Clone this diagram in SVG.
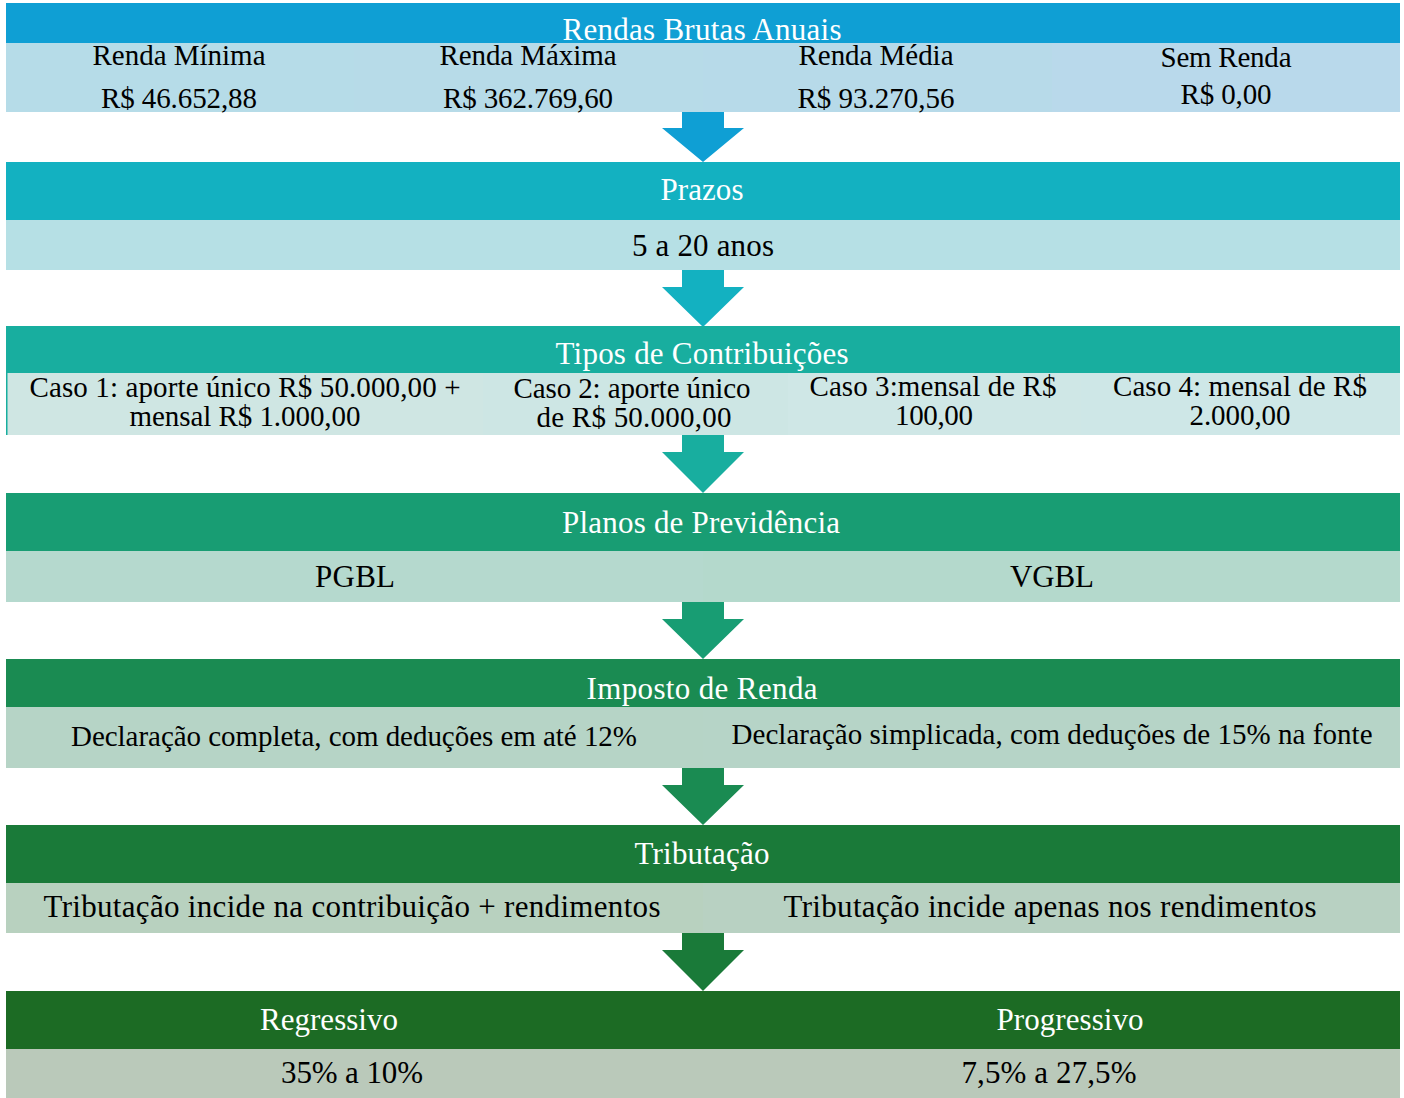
<svg xmlns="http://www.w3.org/2000/svg" width="1404" height="1098" viewBox="0 0 1404 1098">
<style>
text{font-family:"Liberation Serif","Times New Roman",serif;text-anchor:middle}
.h{fill:#ffffff;font-size:31px}
.t{fill:#000000;font-size:29px}
.b{fill:#000000;font-size:31px}
</style>
<rect width="1404" height="1098" fill="#ffffff"/>
<g id="connectors">
<polygon points="682,112 724,112 724,128 744,128 703,162 662,128 682,128" fill="#0F9FD4"/>
<polygon points="682,270 724,270 724,287 744,287 703,327 662,287 682,287" fill="#13B1C1"/>
<polygon points="682,435 724,435 724,452 744,452 703,493 662,452 682,452" fill="#18AE9F"/>
<polygon points="682,602 724,602 724,619 744,619 703,659 662,619 682,619" fill="#189D73"/>
<polygon points="682,768 724,768 724,785 744,785 703,825 662,785 682,785" fill="#1A8B52"/>
<polygon points="682,933 724,933 724,950 744,950 703,991 662,950 682,950" fill="#1A7A39"/>
</g>
<g id="rendas">
<rect x="6" y="3" width="1394" height="40" fill="#0F9FD4"/>
<rect x="6" y="43" width="348" height="69" fill="#B6DCE8"/>
<rect x="354" y="43" width="349" height="69" fill="#B7DBE8"/>
<rect x="703" y="43" width="349" height="69" fill="#B7DAE9"/>
<rect x="1052" y="43" width="348" height="69" fill="#B9D9EB"/>
<text class="h" x="702" y="40" textLength="279">Rendas Brutas Anuais</text>
<text class="t" x="179" y="65" textLength="173">Renda Mínima</text>
<text class="t" x="179" y="108" textLength="156">R$ 46.652,88</text>
<text class="t" x="528" y="65" textLength="177">Renda Máxima</text>
<text class="t" x="528" y="108" textLength="170">R$ 362.769,60</text>
<text class="t" x="876" y="65" textLength="155">Renda Média</text>
<text class="t" x="876" y="108" textLength="157">R$ 93.270,56</text>
<text class="t" x="1226" y="67" textLength="131">Sem Renda</text>
<text class="t" x="1226" y="104" textLength="91">R$ 0,00</text>
</g>
<g id="prazos">
<rect x="6" y="162" width="1394" height="58" fill="#13B1C1"/>
<rect x="6" y="220" width="1394" height="50" fill="#B6E0E5"/>
<text class="h" x="702" y="200" textLength="83">Prazos</text>
<text class="b" x="703" y="256" textLength="142">5 a 20 anos</text>
</g>
<g id="tipos">
<rect x="6" y="326" width="1394" height="47" fill="#18AE9F"/>
<rect x="6" y="373" width="477" height="62" fill="#CFE6E3"/>
<rect x="483" y="373" width="305" height="62" fill="#CDE6E4"/>
<rect x="788" y="373" width="293" height="62" fill="#CFE7E6"/>
<rect x="1081" y="373" width="319" height="62" fill="#CEE7E7"/>
<rect x="6" y="373" width="1.5" height="62" fill="#18AE9F"/>
<text class="h" x="702" y="364" textLength="293">Tipos de Contribuições</text>
<text class="t" x="245" y="397" textLength="431">Caso 1: aporte único R$ 50.000,00 +</text>
<text class="t" x="245" y="426" textLength="231">mensal R$ 1.000,00</text>
<text class="t" x="632" y="398" textLength="237">Caso 2: aporte único</text>
<text class="t" x="634" y="427" textLength="195">de R$ 50.000,00</text>
<text class="t" x="933" y="396" textLength="247">Caso 3:mensal de R$</text>
<text class="t" x="934" y="425" textLength="78">100,00</text>
<text class="t" x="1240" y="396" textLength="254">Caso 4: mensal de R$</text>
<text class="t" x="1240" y="425" textLength="101">2.000,00</text>
</g>
<g id="planos">
<rect x="6" y="493" width="1394" height="58" fill="#189D73"/>
<rect x="6" y="551" width="697" height="51" fill="#B5D9CE"/>
<rect x="703" y="551" width="697" height="51" fill="#B4D9CC"/>
<text class="h" x="701" y="533" textLength="278">Planos de Previdência</text>
<text class="b" x="355" y="587" textLength="80">PGBL</text>
<text class="b" x="1052" y="587" textLength="84">VGBL</text>
</g>
<g id="imposto">
<rect x="6" y="659" width="1394" height="48" fill="#1A8B52"/>
<rect x="6" y="707" width="697" height="61" fill="#B6D4C6"/>
<rect x="703" y="707" width="697" height="61" fill="#B6D4C7"/>
<text class="h" x="702" y="699" textLength="231">Imposto de Renda</text>
<text class="t" x="354" y="746" textLength="566">Declaração completa, com deduções em até 12%</text>
<text class="t" x="1052" y="744" textLength="641">Declaração simplicada, com deduções de 15% na fonte</text>
</g>
<g id="tributacao">
<rect x="6" y="825" width="1394" height="58" fill="#1A7A39"/>
<rect x="6" y="883" width="697" height="50" fill="#B8D1BF"/>
<rect x="703" y="883" width="697" height="50" fill="#B8D1C2"/>
<text class="h" x="702" y="864" textLength="135">Tributação</text>
<text class="b" x="352" y="917" textLength="617">Tributação incide na contribuição + rendimentos</text>
<text class="b" x="1050" y="917" textLength="533">Tributação incide apenas nos rendimentos</text>
</g>
<g id="regimes">
<rect x="6" y="991" width="1394" height="58" fill="#1C6B24"/>
<rect x="6" y="1049" width="1394" height="49" fill="#BAC9BA"/>
<text class="h" x="329" y="1030" textLength="138">Regressivo</text>
<text class="h" x="1070" y="1030" textLength="147">Progressivo</text>
<text class="b" x="352" y="1083" textLength="142">35% a 10%</text>
<text class="b" x="1049" y="1083" textLength="175">7,5% a 27,5%</text>
</g>
</svg>
